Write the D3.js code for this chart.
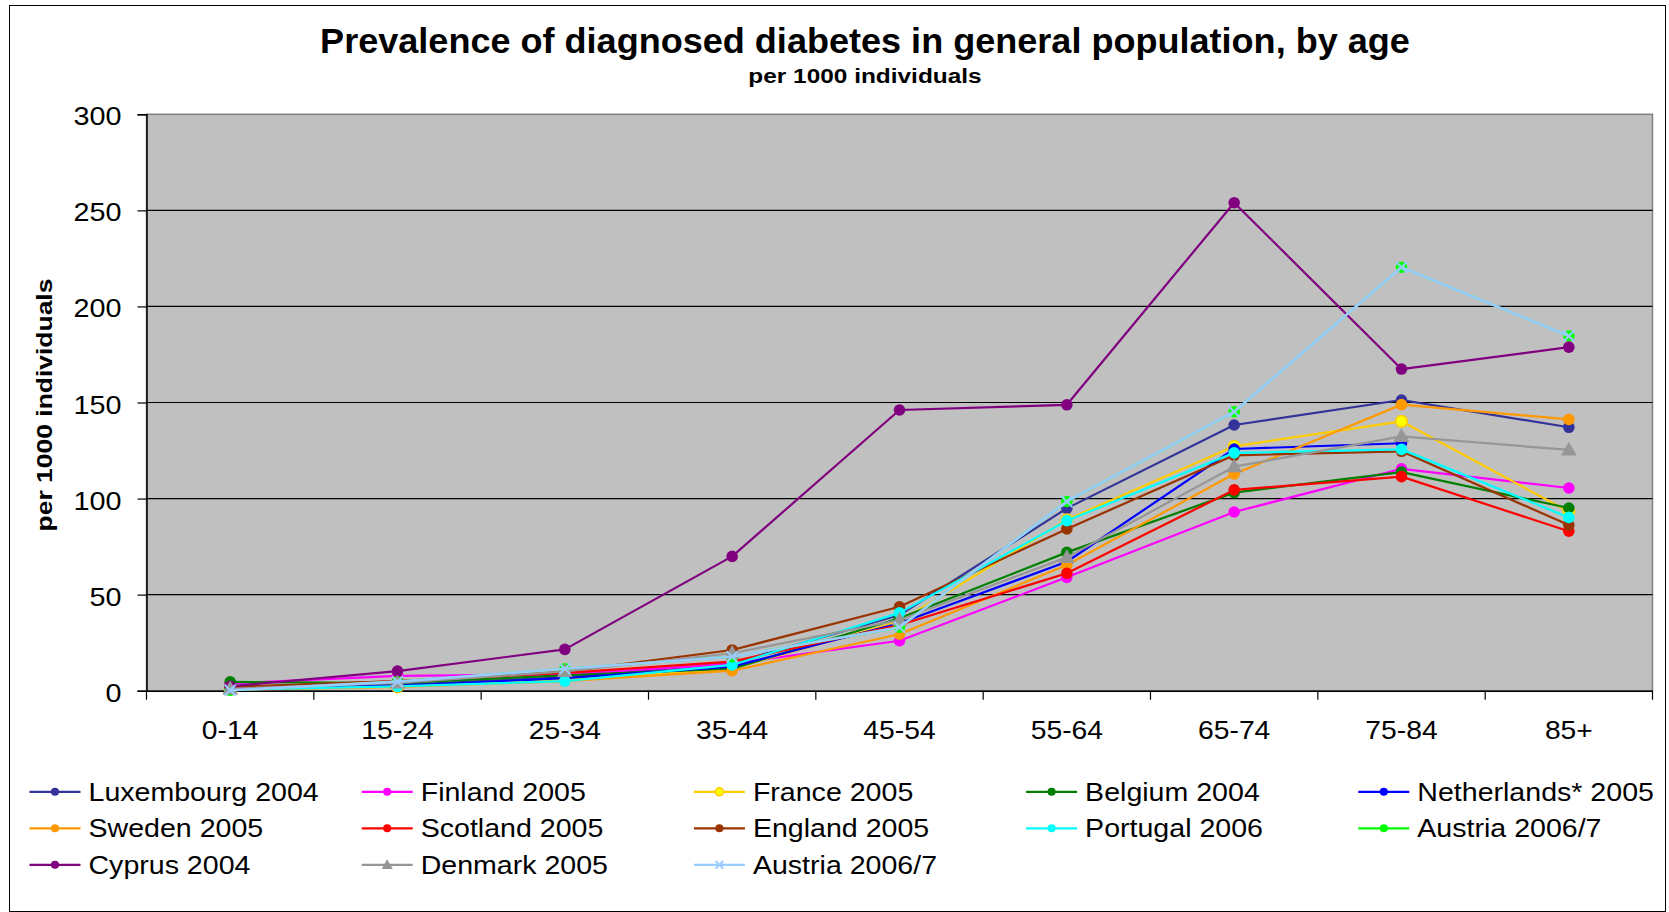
<!DOCTYPE html>
<html><head><meta charset="utf-8">
<script src="https://cdn.jsdelivr.net/npm/d3@7/dist/d3.min.js"></script>
<style>
body{margin:0;background:#fff;}
svg{display:block;}
text{font-family:"Liberation Sans",Arial,Helvetica,sans-serif;fill:#000;}
</style>
</head><body>
<svg id="chart" width="1669" height="912"></svg>
<script>
// ---------- data ----------
const categories = ["0-14","15-24","25-34","35-44","45-54","55-64","65-74","75-84","85+"];
const yTicks = [0,50,100,150,200,250,300];

const luxembourg  = [1.0, 3.0, 7.0, 14.3, 39.4, 94.9, 138.3, 151.3, 137.1];
const finland     = [3.8, 7.7, 8.5, 14.0, 26.0, 59.0, 93.0, 115.5, 105.5];
const france      = [0.8, 2.0, 6.0, 11.5, 36.0, 89.0, 127.2, 140.2, 93.2];
const belgium     = [4.6, 4.0, 8.0, 11.5, 37.7, 72.0, 103.1, 113.8, 95.1];
const netherlands = [0.5, 2.5, 6.5, 12.5, 35.1, 67.1, 125.8, 128.8, null];
const sweden      = [0.5, 2.0, 5.0, 10.4, 29.4, 65.4, 112.8, 148.9, 141.2];
const scotland    = [1.5, 5.0, 9.3, 15.1, 34.2, 61.1, 104.5, 111.4, 83.0];
const england     = [2.0, 5.0, 9.9, 21.2, 43.7, 84.2, 122.5, 124.6, 86.2];
const portugal    = [0.5, 2.3, 5.0, 13.4, 40.5, 88.5, 123.8, 125.6, 90.2];
const austriaA    = [0.2, 4.7, 11.4, 17.7, 33.0, 98.5, 145.2, 220.4, 184.6];
const cyprus      = [2.3, 10.2, 21.5, 69.9, 146.1, 148.8, 254.0, 167.4, 178.8];
const denmark     = [1.0, 4.0, 10.0, 19.5, 36.8, 69.4, 116.6, 132.4, 125.3];
const austriaB    = [0.2, 4.7, 11.4, 17.7, 33.0, 98.5, 145.2, 220.4, 184.6];

const seriesNames = ["Luxembourg 2004","Finland 2005","France 2005","Belgium 2004","Netherlands* 2005",
  "Sweden 2005","Scotland 2005","England 2005","Portugal 2006","Austria 2006/7",
  "Cyprus 2004","Denmark 2005","Austria 2006/7"];
const seriesValues = [luxembourg,finland,france,belgium,netherlands,sweden,scotland,england,portugal,austriaA,cyprus,denmark,austriaB];
const seriesColors = ["#333399","#FF00FF","#FFCC00","#008000","#0000FF","#FF9900","#FF0000","#993300","#00FFFF","#00FF00","#800080","#969696","#99CCFF"];
const markerFills  = ["#333399","#FF00FF","#FFFF00","#008000","#0000FF","#FF9900","#FF0000","#993300","#00FFFF","#00FF00","#800080","#969696","none"];
const markerTypes  = ["circle","circle","circle","circle","circle","circle","circle","circle","circle","circle","circle","triangle","x"];

// ---------- layout ----------
const svg = d3.select("#chart");
const plot = {left:146.5, right:1652.5, top:114.3, bottom:690.7};

svg.append("rect").attr("x",9.5).attr("y",5.5).attr("width",1656).attr("height",906)
  .attr("fill","#fff").attr("stroke","#000").attr("stroke-width",1);

const x = d3.scaleBand().domain(categories).range([plot.left, plot.right]).padding(0);
const y = d3.scaleLinear().domain([0,300]).range([plot.bottom, plot.top]);
const cx = c => x(c) + x.bandwidth()/2;

function stretch(sel, r){
  sel.each(function(){
    const L = this.getComputedTextLength();
    this.setAttribute("textLength", (L*r).toFixed(1));
    this.setAttribute("lengthAdjust","spacingAndGlyphs");
  });
}

// plot area
svg.append("rect").attr("x",plot.left).attr("y",plot.top)
  .attr("width",plot.right-plot.left).attr("height",plot.bottom-plot.top)
  .attr("fill","#C0C0C0").attr("stroke","#808080").attr("stroke-width",1.5);

// gridlines
svg.append("g").selectAll("line").data(yTicks.filter(t=>t>0 && t<300)).join("line")
  .attr("x1",plot.left).attr("x2",plot.right)
  .attr("y1",d=>y(d)).attr("y2",d=>y(d))
  .attr("stroke","#000").attr("stroke-width",1.2);

// y axis
const yAxis = svg.append("g").attr("transform",`translate(${plot.left},0)`)
  .call(d3.axisLeft(y).tickValues(yTicks).tickSize(9).tickPadding(16).tickFormat(d3.format("d")));
yAxis.select(".domain").attr("stroke","#000").attr("stroke-width",1.5);
yAxis.selectAll(".tick line").attr("stroke","#000").attr("stroke-width",1.2);
yAxis.selectAll(".tick text").attr("font-size",25).attr("dy","0.42em")
  .style("font-family","'Liberation Sans',Arial,sans-serif").attr("fill","#000");
stretch(yAxis.selectAll(".tick text"),1.15);

// x axis
const xAxis = svg.append("g").attr("transform",`translate(0,${plot.bottom})`)
  .call(d3.axisBottom(x).tickSize(0).tickPadding(31));
xAxis.select(".domain").attr("stroke","#000").attr("stroke-width",1.5);
xAxis.selectAll(".tick text").attr("font-size",25).attr("dy","0.71em")
  .style("font-family","'Liberation Sans',Arial,sans-serif").attr("fill","#000");
stretch(xAxis.selectAll(".tick text"),1.13);
const edges = d3.range(categories.length+1).map(i => plot.left + i*x.step());
xAxis.append("g").selectAll("line").data(edges).join("line")
  .attr("x1",d=>d).attr("x2",d=>d).attr("y1",0).attr("y2",9)
  .attr("stroke","#000").attr("stroke-width",1.2);

// series
const line = d3.line().defined(d=>d.v!=null).x(d=>cx(d.c)).y(d=>y(d.v));
function drawMarker(g, type, px, py, color, fill, scale){
  const s = scale||1;
  if(type==="circle"){
    g.append("circle").attr("cx",px).attr("cy",py).attr("r",5.8*s)
      .attr("fill",fill).attr("stroke",color).attr("stroke-width",fill===color?0:1.5);
  } else if(type==="triangle"){
    g.append("path").attr("transform",`translate(${px},${py+1})`)
      .attr("d",d3.symbol(d3.symbolTriangle, 110*s*s)()).attr("fill",fill);
  } else {
    const r = 5.5*s;
    g.append("path").attr("d",`M${px-r},${py-r}L${px+r},${py+r}M${px-r},${py+r}L${px+r},${py-r}`)
      .attr("stroke",color).attr("stroke-width",2).attr("fill","none");
  }
}
const seriesG = svg.append("g");
seriesNames.forEach((name,i)=>{
  const g = seriesG.append("g");
  const pts = categories.map((c,j)=>({c, v: seriesValues[i][j]}));
  g.append("path").datum(pts).attr("d",line).attr("fill","none")
    .attr("stroke",seriesColors[i]).attr("stroke-width", i===12?2.6:2.2).attr("stroke-linejoin","round");
  pts.filter(p=>p.v!=null).forEach(p=>drawMarker(g, markerTypes[i], cx(p.c), y(p.v), seriesColors[i], markerFills[i], 1));
});

// titles
const title = svg.append("text").attr("x",865).attr("y",53).attr("text-anchor","middle")
  .attr("font-size",35).attr("font-weight","bold").text("Prevalence of diagnosed diabetes in general population, by age");
stretch(title,1.03);
const sub = svg.append("text").attr("x",865).attr("y",83).attr("text-anchor","middle")
  .attr("font-size",20).attr("font-weight","bold").text("per 1000 individuals");
stretch(sub,1.22);
const ytitle = svg.append("text").attr("transform","translate(52,405) rotate(-90)").attr("text-anchor","middle")
  .attr("font-size",21.5).attr("font-weight","bold").text("per 1000 individuals");
stretch(ytitle,1.23);

// legend
const legend = svg.append("g");
const legCols = 5, legX0 = 88.5, legDX = 332.2, legY0 = 791.8, legDY = 36.5;
seriesNames.forEach((name,i)=>{
  const col = i % legCols, row = Math.floor(i/legCols);
  const tx = legX0 + col*legDX, ty = legY0 + row*legDY;
  const g = legend.append("g");
  g.append("line").attr("x1",tx-59).attr("x2",tx-8).attr("y1",ty).attr("y2",ty)
    .attr("stroke",seriesColors[i]).attr("stroke-width",2.2);
  drawMarker(g, markerTypes[i], tx-33.5, ty, seriesColors[i], markerFills[i], 0.7);
  const t = g.append("text").attr("x",tx).attr("y",ty+9).attr("font-size",25.5).text(name);
  stretch(t,1.12);
});
</script>
</body></html>
